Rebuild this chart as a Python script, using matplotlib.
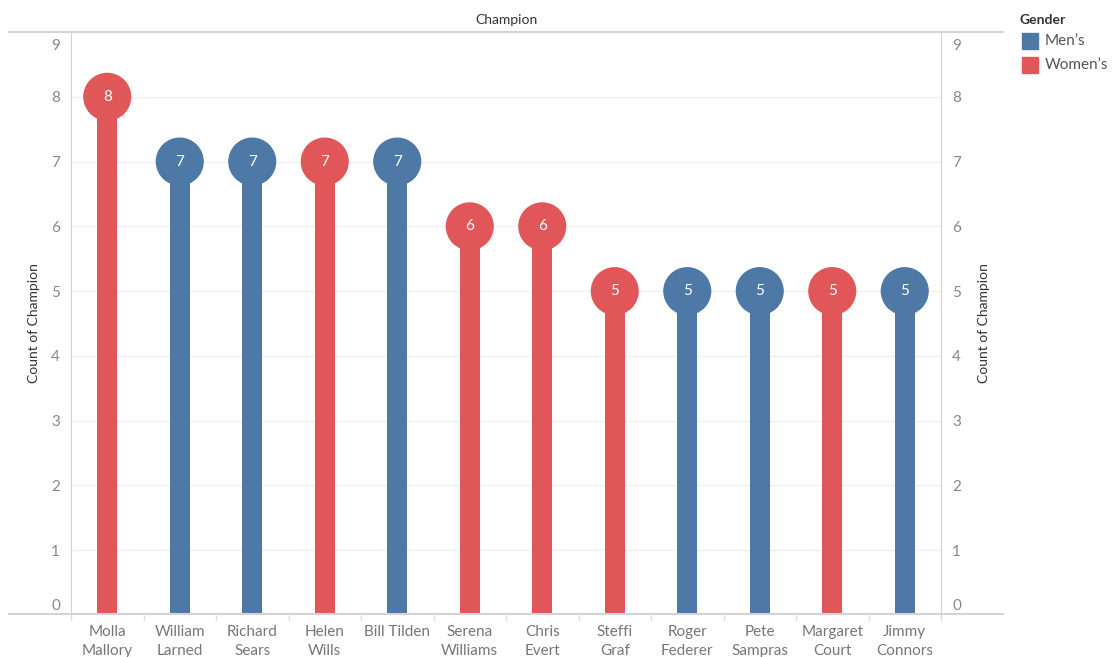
import matplotlib.pyplot as plt
import matplotlib.transforms as mtransforms
from matplotlib.patches import Rectangle
from matplotlib.lines import Line2D

plt.rcParams['font.family'] = ['Lato', 'DejaVu Sans']

names = ["Molla\nMallory", "William\nLarned", "Richard\nSears", "Helen\nWills", "Bill Tilden",
         "Serena\nWilliams", "Chris\nEvert", "Steffi\nGraf", "Roger\nFederer", "Pete\nSampras",
         "Margaret\nCourt", "Jimmy\nConnors"]
counts = [8, 7, 7, 7, 7, 6, 6, 5, 5, 5, 5, 5]
gender = ["Women's", "Men's", "Men's", "Women's", "Men's", "Women's", "Women's", "Women's",
          "Men's", "Men's", "Women's", "Men's"]

colors = {"Men's": "#4e79a7", "Women's": "#e15759"}
W, H = 1112, 657

fig = plt.figure(figsize=(W / 100, H / 100), dpi=100)
ax = fig.add_axes([71 / W, (H - 615) / H, 870 / W, (615 - 32) / H])

x = list(range(len(names)))
cols = [colors[g] for g in gender]
ax.bar(x, counts, width=0.28, color=cols, zorder=2)
ax.scatter(x, counts, s=1200, color=cols, zorder=3, linewidths=0)
for xi, c in zip(x, counts):
    ax.text(xi, c, str(c), color="white", ha="center", va="center", fontsize=11, zorder=4)

ax.set_xlim(-0.5, len(names) - 0.5)
ax.set_ylim(0, 9)
ax.set_yticks(range(10))
ax.grid(axis="y", color="#f0f0f0", linewidth=1, zorder=0)
ax.set_xticks([])
for s in ["top", "bottom"]:
    ax.spines[s].set_visible(False)
for s in ["left", "right"]:
    ax.spines[s].set_color("#d4d4d4")
ax.tick_params(axis="y", length=0, labelsize=11, labelcolor="#888888", pad=8)
ax.set_ylabel("Count of Champion", fontsize=10, color="#333333", labelpad=8)

ax2 = ax.twinx()
ax2.set_ylim(0, 9)
ax2.set_yticks(range(10))
for s in ["top", "bottom", "left"]:
    ax2.spines[s].set_visible(False)
ax2.spines["right"].set_color("#d4d4d4")
ax2.tick_params(axis="y", length=0, labelsize=11, labelcolor="#888888", pad=8)
ax2.set_ylabel("Count of Champion", fontsize=10, color="#333333", labelpad=12)

# edge tick labels pushed inward like the original
fig.canvas.draw()
for a in (ax, ax2):
    labels = a.get_yticklabels()
    down = mtransforms.ScaledTranslation(0, -12 / 100, fig.dpi_scale_trans)
    up = mtransforms.ScaledTranslation(0, 10 / 100, fig.dpi_scale_trans)
    labels[-1].set_transform(labels[-1].get_transform() + down)
    labels[0].set_transform(labels[0].get_transform() + up)

# category labels under the axis
for xi, n in zip(x, names):
    ax.text(xi, -0.16, n, ha="center", va="top", fontsize=11, color="#777777",
            linespacing=1.45, transform=ax.transData, clip_on=False)
# separators
for b in range(len(names) + 1):
    ax.plot([b - 0.5, b - 0.5], [-0.01, -0.08], color="#e0e0e0", lw=1, clip_on=False)

# frame lines across the figure
fig.add_artist(Line2D([9 / W, 1003 / W], [(H - 32) / H, (H - 32) / H], color="#d4d4d4", lw=1.5))
fig.add_artist(Line2D([9 / W, 1003 / W], [(H - 614) / H, (H - 614) / H], color="#d4d4d4", lw=1.5))

fig.text(506 / W, (H - 20) / H, "Champion", ha="center", va="center", fontsize=10, color="#333333")

# legend
fig.text(1019 / W, (H - 20) / H, "Gender", ha="left", va="center", fontsize=10,
         color="#333333", fontweight="bold")
for i, g in enumerate(["Men's", "Women's"]):
    yc = 41 + i * 24
    fig.add_artist(Rectangle((1022 / W, (H - yc - 8) / H), 16 / W, 16 / H,
                             color=colors[g], transform=fig.transFigure))
    fig.text(1045 / W, (H - yc) / H, g.replace("'", "\u2019"), ha="left", va="center",
             fontsize=11, color="#555555")

fig.savefig("out.png", dpi=100)
